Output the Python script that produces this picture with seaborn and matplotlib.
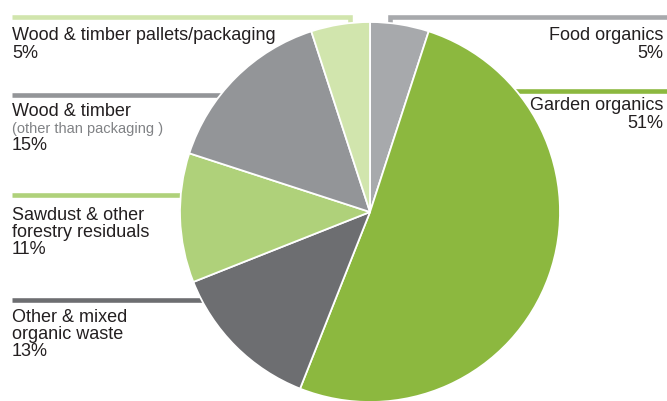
import matplotlib
matplotlib.use("Agg")
import matplotlib.pyplot as plt
import seaborn as sns

# --- DATA ---
categories = ["Food organics", "Garden organics", "Other & mixed\norganic waste",
              "Sawdust & other\nforestry residuals", "Wood & timber",
              "Wood & timber pallets/packaging"]
notes = ["", "", "", "", "(other than packaging )", ""]
shares = [5, 51, 13, 11, 15, 5]
colors = ["#a7a9ac", "#8cb83f", "#6d6e71", "#afd17a", "#939598", "#d1e5ad"]

# --- LAYOUT (pixel coords, y measured from top) ---
W, H = 667, 401
CX, CY, R = 370, 212, 190
TEXT_COLOR = "#231f20"
NOTE_COLOR = "#808285"

# leader line paths and label anchors: (side, x, first baseline)
leaders = [
    [(667, 16.5), (390, 16.5), (390, 32)],
    [(667, 90.5), (CX, 90.5)],
    [(12, 300), (CX, 300)],
    [(12, 195), (CX, 195)],
    [(12, 95), (CX, 95)],
    [(12, 16.5), (350, 16.5), (350, 32)],
]
anchors = [("right", 663, 40), ("right", 663, 110.5), ("left", 12, 321.5),
           ("left", 12, 219.5), ("left", 12, 116.5), ("left", 12, 40)]
STEP = 17.5


def main():
    sns.set_theme(style="white")
    plt.rcParams["font.family"] = ["Liberation Sans", "DejaVu Sans"]

    fig = plt.figure(figsize=(W / 100, H / 100), dpi=100, facecolor="white")
    ax = fig.add_axes([0, 0, 1, 1])

    ax.pie(shares, colors=colors, startangle=90, counterclock=False,
           center=(CX, H - CY), radius=R, frame=True,
           wedgeprops=dict(edgecolor="white", linewidth=1.3))

    for path, col in zip(leaders, colors):
        xs = [p[0] for p in path]
        ys = [H - p[1] for p in path]
        ax.plot(xs, ys, color=col, lw=3.3, solid_capstyle="butt",
                solid_joinstyle="miter", zorder=0.5)

    for cat, note, val, (side, x, y0) in zip(categories, notes, shares, anchors):
        lines = cat.split("\n")
        y = y0
        for ln in lines:
            ax.text(x, H - y, ln, ha=side, va="baseline", fontsize=13, color=TEXT_COLOR)
            y += STEP
        if note:
            ax.text(x, H - (y - 1.5), note, ha=side, va="baseline", fontsize=10.5,
                    color=NOTE_COLOR)
            y += 16.5
        ax.text(x, H - y, f"{val}%", ha=side, va="baseline", fontsize=13, color=TEXT_COLOR)

    ax.set_xlim(0, W)
    ax.set_ylim(0, H)
    ax.set_aspect("auto")
    ax.axis("off")

    fig.savefig("out.png", dpi=100, facecolor="white")


if __name__ == "__main__":
    main()
